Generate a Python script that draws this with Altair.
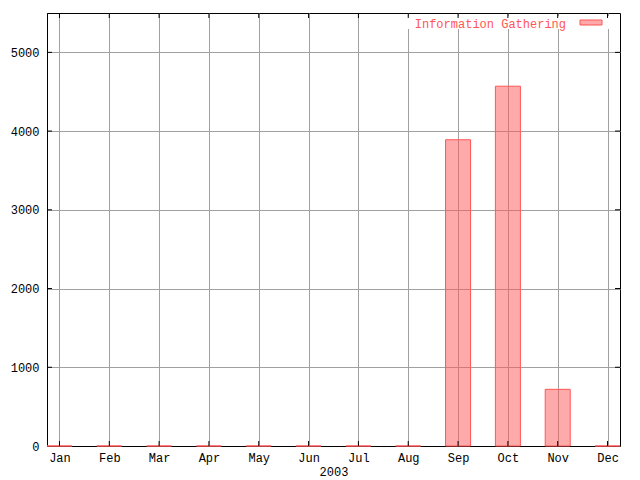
import altair as alt
import pandas as pd

# ---- data ----
months = ["Jan", "Feb", "Mar", "Apr", "May", "Jun",
          "Jul", "Aug", "Sep", "Oct", "Nov", "Dec"]
month_num = list(range(1, 13))
counts = [0, 0, 0, 0, 0, 0, 0, 0, 3890, 4570, 720, 0]
y_ticks = [1000, 2000, 3000, 4000, 5000]
y_labels = [0, 1000, 2000, 3000, 4000, 5000]
series_name = ["Information Gathering"]
x_title = "2003"

df = pd.DataFrame({"m": month_num, "month": months, "count": counts})
ytick_df = pd.DataFrame({"v": y_ticks})
xtick_df = pd.DataFrame({"m": month_num})
leg_df = pd.DataFrame({"label": series_name})

W, H = 573, 433
RED = "#ff5555"
FONT = "Liberation Mono"

xscale = alt.Scale(domain=[0.75, 12.25], nice=False, zero=False, padding=0)
yscale = alt.Scale(domain=[0, 5500], nice=False, padding=0)

label_expr = "[" + ",".join("'%s'" % m for m in months) + "][datum.value - 1]"

x_axis = alt.Axis(values=month_num, labelExpr=label_expr, title=x_title,
                  grid=True, ticks=False, labelPadding=6, titlePadding=3,
                  labelFlush=False)
y_axis = alt.Axis(values=y_labels, title=None, grid=True, ticks=False,
                  labelPadding=8, format="d")

bars = alt.Chart(df).mark_bar(
    size=25, fill=RED, fillOpacity=0.5, stroke=RED, strokeWidth=1
).encode(
    x=alt.X("m:Q", scale=xscale, axis=x_axis),
    y=alt.Y("count:Q", scale=yscale, axis=y_axis),
)

# legend (top-right box, gnuplot style)
leg_bg = alt.Chart(leg_df).mark_rect(fill="white").encode(
    x=alt.value(356), x2=alt.value(566), y=alt.value(3), y2=alt.value(16)
)
leg_text = alt.Chart(leg_df).mark_text(
    align="right", baseline="middle", color=RED, font=FONT, fontSize=12
).encode(text="label:N", x=alt.value(519), y=alt.value(11))
leg_key = alt.Chart(leg_df).mark_rect(
    fill=RED, fillOpacity=0.5, stroke=RED, strokeWidth=1
).encode(x=alt.value(533), x2=alt.value(555), y=alt.value(7), y2=alt.value(12))

# inward ticks on all four sides
tick_left = alt.Chart(ytick_df).mark_rule(color="black").encode(
    y=alt.Y("v:Q", scale=yscale, axis=y_axis), x=alt.value(0), x2=alt.value(5)
)
tick_right = alt.Chart(ytick_df).mark_rule(color="black").encode(
    y=alt.Y("v:Q", scale=yscale, axis=y_axis), x=alt.value(W), x2=alt.value(W - 5)
)
tick_bottom = alt.Chart(xtick_df).mark_rule(color="black").encode(
    x=alt.X("m:Q", scale=xscale, axis=x_axis), y=alt.value(H), y2=alt.value(H - 5)
)
tick_top = alt.Chart(xtick_df).mark_rule(color="black").encode(
    x=alt.X("m:Q", scale=xscale, axis=x_axis), y=alt.value(0), y2=alt.value(5)
)

chart = alt.layer(
    bars, leg_bg, leg_text, leg_key, tick_left, tick_right, tick_bottom, tick_top
).properties(
    width=W, height=H,
    background="white",
    autosize=alt.AutoSizeParams(type="none"),
    padding={"left": 39, "top": 5, "right": 12, "bottom": 32},
).configure_view(
    stroke="black", strokeWidth=1
).configure_axis(
    labelFont=FONT, titleFont=FONT, labelFontSize=12, titleFontSize=12,
    titleFontWeight="normal", labelColor="black", titleColor="black",
    domainColor="black", domainWidth=1, gridColor="#a0a0a0", gridWidth=1,
    gridOpacity=1,
)

chart.save("out.html", embed_options={"renderer": "svg", "actions": False})
